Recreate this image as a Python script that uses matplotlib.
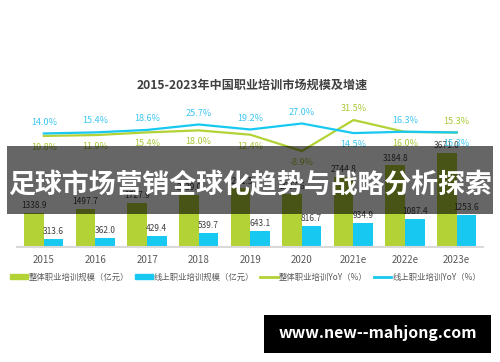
import numpy as np
import matplotlib
matplotlib.use("Agg")
import matplotlib.pyplot as plt
from matplotlib.patches import Rectangle, Patch
from matplotlib.lines import Line2D

plt.rcParams['font.family'] = ['Noto Sans CJK SC', 'DejaVu Sans']

# data
years = ["2015", "2016", "2017", "2018", "2019", "2020", "2021e", "2022e", "2023e"]
total_size = [1338.9, 1497.7, 1727.9, 2039.0, 2291.5, 2087.6, 2744.8, 3184.8, 3671.0]
online_size = [313.6, 362.0, 429.4, 539.7, 643.1, 816.7, 934.9, 1087.4, 1253.6]
total_yoy = [10.8, 11.9, 15.4, 18.0, 12.4, -8.9, 31.5, 16.0, 15.3]
online_yoy = [14.0, 15.4, 18.6, 25.7, 19.2, 27.0, 14.5, 16.3, 15.3]

green = "#b2d235"
blue = "#17c8f0"
green_txt = "#a8c838"
blue_txt = "#3cc6f0"
grey_txt = "#404040"

fig = plt.figure(figsize=(5, 3.62), dpi=100)
ax = fig.add_axes([0.034, 0.3177, 0.932, 0.406])
x = np.arange(len(years))
w = 0.38

ax.bar(x - w / 2, total_size, w, color=green, zorder=2)
ax.bar(x + w / 2, online_size, w, color=blue, zorder=2)
for i in range(len(years)):
    ax.annotate(f"{total_size[i]:.1f}", (x[i] - w / 2, total_size[i]), xytext=(0, 2),
                textcoords="offset points", ha="center", va="bottom", fontsize=6, color=grey_txt)
    ax.annotate(f"{online_size[i]:.1f}", (x[i] + w / 2, online_size[i]), xytext=(0, 2),
                textcoords="offset points", ha="center", va="bottom", fontsize=6, color=grey_txt)

ax.set_xlim(-0.52, 8.51)
ax.set_ylim(0, 5742)
ax.set_yticks([])
for s in ["top", "right", "left"]:
    ax.spines[s].set_visible(False)
ax.spines["bottom"].set_color("#d9d9d9")
ax.spines["bottom"].set_linewidth(1.5)
ax.set_xticks(x)
ax.set_xticklabels(years, fontsize=7, color="#595959")
ax.tick_params(axis="x", length=0, pad=6)

ax2 = ax.twinx()
ax2.set_ylim(-134, 57.6)
ax2.axis("off")
ax2.plot(x, total_yoy, color=green, lw=1.6)
ax2.plot(x, online_yoy, color=blue, lw=1.6)
for i in range(len(years)):
    up_g = total_yoy[i] >= online_yoy[i]
    ax2.annotate(f"{total_yoy[i]:.1f}%", (x[i], total_yoy[i]), xytext=(0, 5 if up_g else -5),
                 textcoords="offset points", ha="center", va="bottom" if up_g else "top",
                 fontsize=6.5, color=green_txt)
    ax2.annotate(f"{online_yoy[i]:.1f}%", (x[i], online_yoy[i]), xytext=(0, -5 if up_g else 5),
                 textcoords="offset points", ha="center", va="top" if up_g else "bottom",
                 fontsize=6.5, color=blue_txt)

fig.text(0.504, 0.765, "2015-2023年中国职业培训市场规模及增速", ha="center", va="center",
         fontsize=8.7, fontweight="bold", color=grey_txt)

handles = [Patch(color=green), Patch(color=blue),
           Line2D([], [], color=green, lw=2), Line2D([], [], color=blue, lw=2)]
labels = ["整体职业培训规模（亿元）", "线上职业培训规模（亿元）",
          "整体职业培训YoY（%）", "线上职业培训YoY（%）"]
fig.legend(handles, labels, loc="center", bbox_to_anchor=(0.491, 0.235), ncol=4, frameon=False,
           fontsize=6, labelcolor="#595959", handlelength=2.1, handleheight=0.7,
           columnspacing=0.7, handletextpad=0.15)

# dark banner with headline
fig.patches.append(Rectangle((0.014, 0.4088), 0.972, 0.1878, transform=fig.transFigure,
                             facecolor="black", alpha=0.6, edgecolor="none", zorder=10))
fig.text(0.5, 0.489, "足球市场营销全球化趋势与战略分析探索", ha="center", va="center",
         fontsize=19.4, fontweight="bold", color="white", zorder=11)

# watermark box
fig.patches.append(Rectangle((0.528, 0.0249), 0.454, 0.105, transform=fig.transFigure,
                             facecolor="black", edgecolor="none", zorder=10))
fig.text(0.755, 0.08, "www.new--mahjong.com", ha="center", va="center",
         fontsize=11.4, fontweight="bold", color="white", zorder=11)

fig.savefig("out.png", dpi=100)
